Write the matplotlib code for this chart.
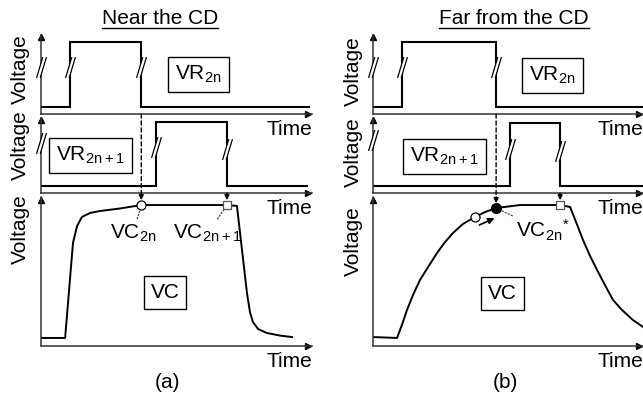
import matplotlib
matplotlib.use("Agg")
import matplotlib.pyplot as plt
from matplotlib.patches import ConnectionPatch
from matplotlib.path import Path
from matplotlib.lines import Line2D

plt.rcParams['font.family'] = ['Liberation Sans', 'DejaVu Sans']
plt.rcParams['mathtext.default'] = 'regular'

W, H = 643, 401

# each panel: time 0-100 along x, voltage 0-1 along y
# (a) Near the CD
a_vr2n_t = [0, 10.7, 10.7, 37.0, 37.0, 99.0]
a_vr2n_v = [0.09, 0.09, 0.91, 0.91, 0.09, 0.09]
a_vr2n1_t = [0, 42.4, 42.4, 68.6, 68.6, 98.0]
a_vr2n1_v = [0.09, 0.09, 0.95, 0.95, 0.09, 0.09]
a_vc_t = [0, 8.9, 11.8, 13.3, 15.1, 18.1, 21.8, 29.2, 37.0, 68.6, 72.3,
          76.0, 77.1, 78.2, 80.1, 83.4, 88.2, 92.6]
a_vc_v = [0.054, 0.054, 0.691, 0.805, 0.866, 0.893, 0.906, 0.923, 0.946, 0.946, 0.940,
          0.356, 0.228, 0.161, 0.114, 0.087, 0.070, 0.060]
a_vc2n = (37.0, 0.946)
a_vc2n1 = (68.6, 0.946)

# (b) Far from the CD
b_vr2n_t = [0, 10.7, 10.7, 45.6, 45.6, 100.0]
b_vr2n_v = [0.09, 0.09, 0.91, 0.91, 0.09, 0.09]
b_vr2n1_t = [0, 50.7, 50.7, 69.3, 69.3, 100.0]
b_vr2n1_v = [0.09, 0.09, 0.93, 0.93, 0.09, 0.09]
b_vc_t = [0, 8.9, 10.7, 12.6, 14.8, 17.4, 20.4, 23.7, 26.7, 29.6, 33.3, 37.8, 41.5,
          45.6, 54.4, 69.3, 73.0, 75.2, 77.8, 80.4, 83.0, 85.9, 88.9, 92.2, 96.3, 100.0]
b_vc_v = [0.060, 0.054, 0.141, 0.242, 0.342, 0.443, 0.530, 0.624, 0.698, 0.758, 0.819,
          0.866, 0.899, 0.926, 0.946, 0.946, 0.933, 0.832, 0.711, 0.604, 0.510, 0.409,
          0.309, 0.242, 0.174, 0.128]
b_vc2n = (37.8, 0.866)
b_vc2n_star = (45.6, 0.926)
b_vc2n1 = (69.3, 0.946)

# "//" break marks (time, voltage)
a_top_breaks = [(0, 0.60), (10.7, 0.59), (37.0, 0.59)]
a_mid_breaks = [(0, 0.67), (42.4, 0.61), (68.6, 0.59)]
b_top_breaks = [(0, 0.60), (10.7, 0.60), (45.6, 0.60)]
b_mid_breaks = [(0, 0.71), (50.7, 0.59), (69.3, 0.56)]

FS = 15

fig = plt.figure(figsize=(W / 100, H / 100), dpi=100)


def px(x, y):
    return x / W, 1 - y / H


def make_axes(x0, x1, ytop, yaxis):
    ax = fig.add_axes([x0 / W, 1 - yaxis / H, (x1 - x0) / W, (yaxis - ytop) / H])
    ax.set_xlim(0, 100)
    ax.set_ylim(0, 1)
    ax.patch.set_alpha(0)
    for s in ['top', 'right']:
        ax.spines[s].set_visible(False)
    for s in ['left', 'bottom']:
        ax.spines[s].set_color('#333333')
        ax.spines[s].set_linewidth(1.1)
    ax.set_xticks([])
    ax.set_yticks([])
    ax.plot(0.985, 0, '>', color='k', ms=5, transform=ax.transAxes, clip_on=False)
    ax.plot(0, 0.98, '^', color='k', ms=5, transform=ax.transAxes, clip_on=False)
    ax.annotate('Time', xy=(1, 0), xycoords='axes fraction', xytext=(0, -11),
                textcoords='offset points', ha='right', va='center', fontsize=FS)
    return ax


slash = Path([(-0.475, -1), (0.125, 1), (-0.125, -1), (0.475, 1)],
             [Path.MOVETO, Path.LINETO, Path.MOVETO, Path.LINETO])
gap = Path([(-0.475, -1), (-0.125, -1), (0.475, 1), (0.125, 1), (-0.475, -1)],
           [Path.MOVETO, Path.LINETO, Path.LINETO, Path.LINETO, Path.CLOSEPOLY])


def draw_breaks(ax, breaks):
    for t, v in breaks:
        ax.plot(t, v, marker=gap, ms=15, mfc='white', mec='none', ls='none', clip_on=False, zorder=4)
        ax.plot(t, v, marker=slash, ms=15, mfc='none', mec='k', mew=0.9, ls='none', clip_on=False, zorder=5)


def box_label(ax, t, v, s):
    ax.text(t, v, s, ha='center', va='center', fontsize=FS,
            bbox=dict(boxstyle='square,pad=0.33', fc='white', ec='k', lw=1))


def drop_line(ax_from, ax_to, t, v_to):
    con = ConnectionPatch(xyA=(t, 0), coordsA=ax_from.transData,
                          xyB=(t, v_to), coordsB=ax_to.transData,
                          ls=(0, (3, 2)), color='k', lw=1, shrinkB=6)
    fig.add_artist(con)
    ax_to.annotate('', xy=(t, v_to), xytext=(0, 8), textcoords='offset points',
                   arrowprops=dict(arrowstyle='-|>', color='k', lw=1, shrinkA=0,
                                   shrinkB=3.5, mutation_scale=7))


sig = dict(color='k', lw=1.5, solid_joinstyle='miter')

# ---------- (a) ----------
ax1 = make_axes(41, 312, 35, 114)
ax2 = make_axes(41, 312, 118, 193)
ax3 = make_axes(41, 312, 197, 346)

ax1.plot(a_vr2n_t, a_vr2n_v, **sig)
ax2.plot(a_vr2n1_t, a_vr2n1_v, **sig)
ax3.plot(a_vc_t, a_vc_v, color='k', lw=1.4)
draw_breaks(ax1, a_top_breaks)
draw_breaks(ax2, a_mid_breaks)

box_label(ax1, 58.1, 0.50, 'VR$_{2n}$')
box_label(ax2, 18.3, 0.50, 'VR$_{2n+1}$')
box_label(ax3, 45.8, 0.36, 'VC')

drop_line(ax1, ax3, a_vc2n[0], a_vc2n[1])
drop_line(ax2, ax3, a_vc2n1[0], a_vc2n1[1])
ax3.plot(*a_vc2n, 'o', ms=6.5, mfc='white', mec='k', mew=0.9, zorder=6)
ax3.plot(*a_vc2n1, 's', ms=6, mfc='white', mec='#555555', mew=0.9, zorder=6)

lead = dict(arrowstyle='-', ls=':', color='#444444', lw=0.9, shrinkA=1, shrinkB=4)
ax3.annotate('VC$_{2n}$', xy=a_vc2n, xytext=(33.9, 0.755), ha='center', va='center',
             fontsize=FS, arrowprops=lead)
ax3.annotate('VC$_{2n+1}$', xy=a_vc2n1, xytext=(61.5, 0.755), ha='center', va='center',
             fontsize=FS, arrowprops=lead)

# ---------- (b) ----------
bx1 = make_axes(373, 643, 35, 114)
bx2 = make_axes(373, 643, 118, 193)
bx3 = make_axes(373, 643, 197, 346)

bx1.plot(b_vr2n_t, b_vr2n_v, **sig)
bx2.plot(b_vr2n1_t, b_vr2n1_v, **sig)
bx3.plot(b_vc_t, b_vc_v, color='k', lw=1.4)
draw_breaks(bx1, b_top_breaks)
draw_breaks(bx2, b_mid_breaks)

box_label(bx1, 66.5, 0.49, 'VR$_{2n}$')
box_label(bx2, 26.5, 0.49, 'VR$_{2n+1}$')
box_label(bx3, 48.0, 0.35, 'VC')

drop_line(bx1, bx3, b_vc2n_star[0], b_vc2n_star[1])
drop_line(bx2, bx3, b_vc2n1[0], b_vc2n1[1])
bx3.plot(*b_vc2n, 'o', ms=6.5, mfc='white', mec='k', mew=0.9, zorder=6)
bx3.plot(*b_vc2n_star, 'o', ms=7, mfc='k', mec='k', zorder=6)
bx3.plot(*b_vc2n1, 's', ms=6, mfc='white', mec='#555555', mew=0.9, zorder=6)
bx3.annotate('', xy=(45.0, 0.858), xytext=(39.4, 0.812),
             arrowprops=dict(arrowstyle='-|>', color='k', lw=1.2, shrinkA=0, shrinkB=0,
                             mutation_scale=9))
bx3.annotate('VC$_{2n}{}^{*}$', xy=b_vc2n_star, xytext=(63.0, 0.775), ha='center',
             va='center', fontsize=FS, arrowprops=lead)

# axis titles
for x, y in [(20, 69), (20, 145), (20, 229), (353, 71), (353, 152), (353, 241)]:
    fig.text(*px(x, y), 'Voltage', rotation=90, ha='center', va='center', fontsize=FS)

fig.text(*px(167, 382), '(a)', ha='center', va='center', fontsize=FS)
fig.text(*px(505, 382), '(b)', ha='center', va='center', fontsize=FS)

titles = [fig.text(*px(160, 18), 'Near the CD', ha='center', va='center', fontsize=FS),
          fig.text(*px(514, 18), 'Far from the CD', ha='center', va='center', fontsize=FS)]

# underline the titles
fig.canvas.draw()
renderer = fig.canvas.get_renderer()
for t in titles:
    bb = t.get_window_extent(renderer).transformed(fig.transFigure.inverted())
    fig.add_artist(Line2D([bb.x0, bb.x1], [bb.y0, bb.y0],
                          transform=fig.transFigure, color='k', lw=1))

fig.savefig('out.png', dpi=100)
